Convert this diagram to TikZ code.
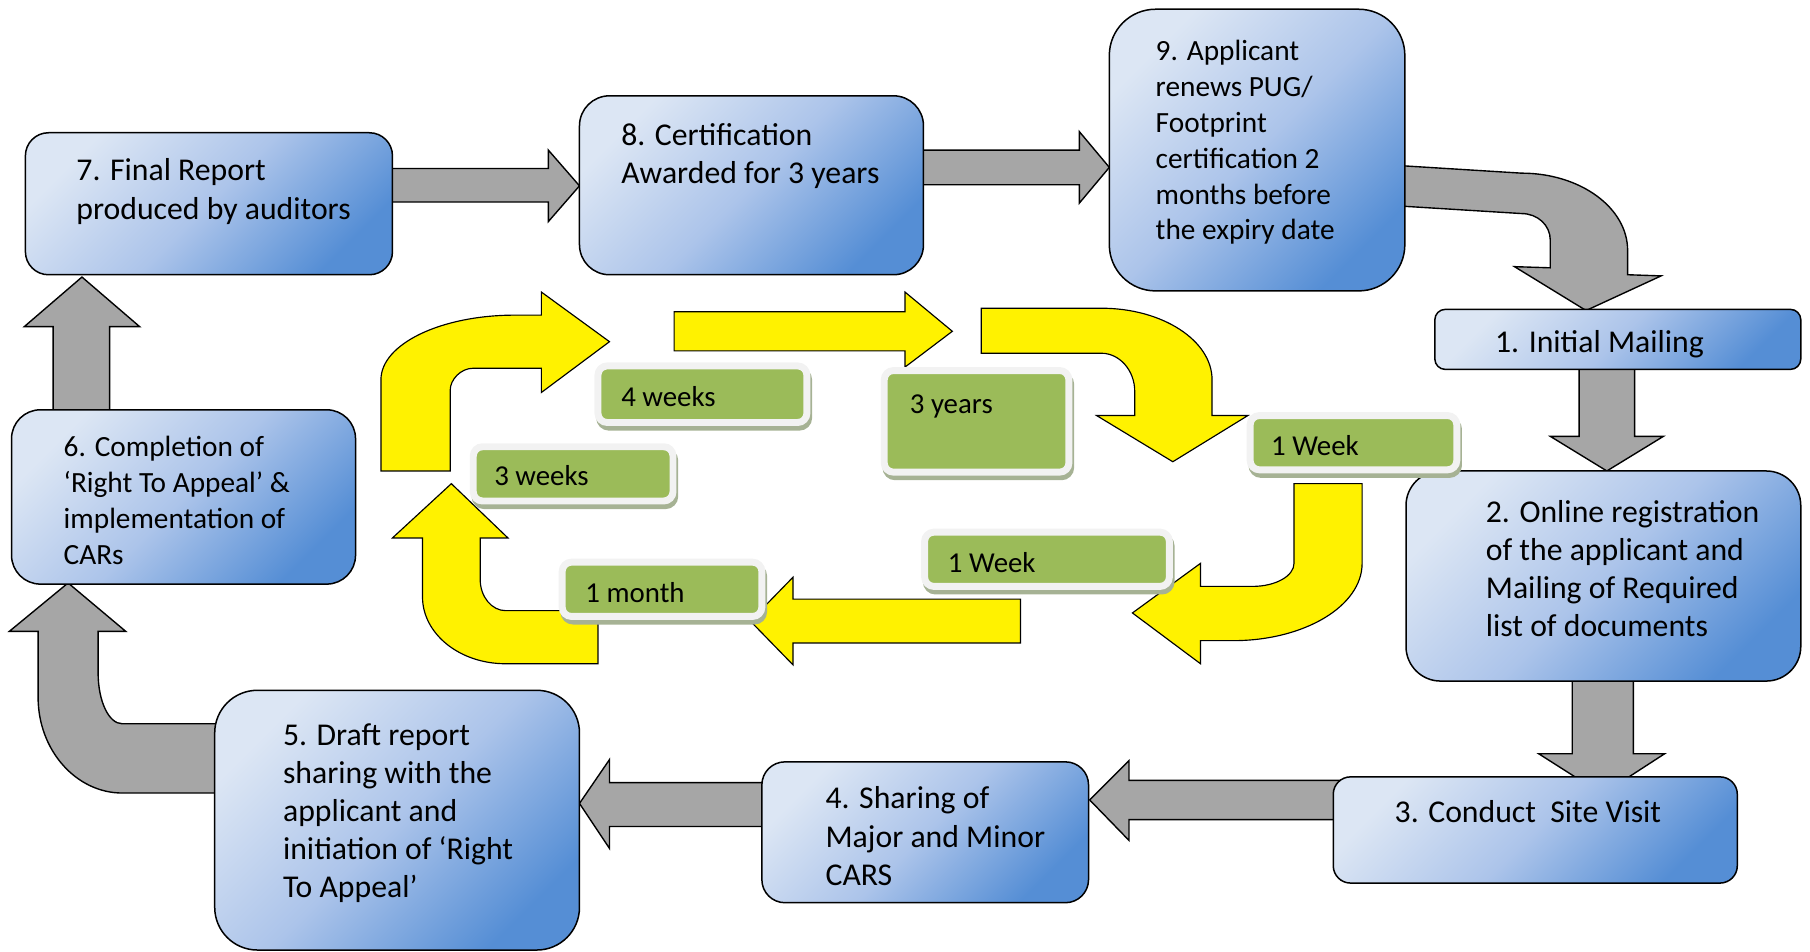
\documentclass[tikz,border=0pt]{standalone}
\usepackage{fontspec}
\setmainfont{Carlito}

\definecolor{boxlight}{RGB}{220,230,244}
\definecolor{boxmid}{RGB}{172,196,234}
\definecolor{boxdark}{RGB}{85,142,213}
\definecolor{arrgray}{RGB}{166,166,166}
\definecolor{lblgreen}{RGB}{155,187,89}
\definecolor{lblframe}{RGB}{242,242,242}
\definecolor{lblshadow}{RGB}{166,178,148}

\begin{document}
\begin{tikzpicture}[x=1pt,y=-1pt,
  stagebox/.style={draw=black,line width=1.3pt,inner sep=0pt,
    top color=boxlight,bottom color=boxdark,middle color=boxmid,shading angle=45},
  stagetext/.style={anchor=north west,align=left,inner sep=0pt,
    font=\fontsize{27.5}{33}\selectfont},
  smalltext/.style={stagetext,font=\fontsize{25.4}{31}\selectfont},
  grayarr/.style={draw=black,line width=1.2pt,fill=arrgray},
  yelarr/.style={draw=black,line width=1pt,fill=yellow},
  timebox/.style={draw=lblframe,line width=6pt,fill=lblgreen,rounded corners=8pt,
    inner sep=0pt,preaction={draw=lblshadow,fill=lblshadow,line width=6pt,
    transform canvas={xshift=1.5pt,yshift=-4pt}}},
  timetext/.style={anchor=west,inner sep=0pt,font=\fontsize{25}{30}\selectfont,
    text height=17pt,text depth=5pt}]

  \useasboundingbox (0,0) rectangle (1568,824);

  % gray arrows between the stages
  \draw[grayarr] (330,146) -- (475,146) -- (475,130) -- (502,161) -- (475,192) -- (475,175) -- (330,175) -- cycle;
  \draw[grayarr] (790,130) -- (935,130) -- (935,114) -- (961,145) -- (935,176) -- (935,160) -- (790,160) -- cycle;
  \draw[grayarr] (1205,143) -- (1318,150) .. controls (1369,150) and (1410,180) .. (1410,217)
    -- (1410,238) -- (1439,239) -- (1374,269) -- (1312,231) -- (1343,232) -- (1343,208)
    .. controls (1343,195) and (1332,185) .. (1318,185) -- (1205,178) -- cycle;
  \draw[grayarr] (1368,315) -- (1368,378) -- (1343,378) -- (1392,408) -- (1441,378) -- (1416,378) -- (1416,315) -- cycle;
  \draw[grayarr] (1362,585) -- (1362,653) -- (1333,653) -- (1388,688) -- (1442,653) -- (1415,653) -- (1415,585) -- cycle;
  \draw[grayarr] (1165,676) -- (978,676) -- (978,659) -- (944,693) -- (978,728) -- (978,710) -- (1165,710) -- cycle;
  \draw[grayarr] (670,678) -- (528,678) -- (528,658) -- (502,696) -- (528,735) -- (528,716) -- (670,716) -- cycle;
  \draw[grayarr] (196,627) -- (106,627) .. controls (94,627) and (85,607) .. (85,583) -- (85,547)
    -- (109,547) -- (59,505) -- (8,547) -- (33,547) -- (33,604)
    .. controls (33,650) and (66,687) .. (106,687) -- (196,687) -- cycle;
  \draw[grayarr] (46,360) -- (46,283) -- (21,283) -- (71,240) -- (121,283) -- (95,283) -- (95,360) -- cycle;

  % stages
  \node[stagebox,rounded corners=20pt,minimum width=318,minimum height=123] (s7) at (181,176.5) {};
  \node[stagetext] (t7) at (66,137.5) {7. Final Report\\produced by auditors};

  \node[stagebox,rounded corners=26pt,minimum width=298,minimum height=155] (s8) at (651,160.5) {};
  \node[stagetext] (t8) at (538,107) {8. Certification\\Awarded for 3 years};

  \node[stagebox,rounded corners=40pt,minimum width=256,minimum height=244] (s9) at (1089,130) {};
  \node[smalltext] (t9) at (1001,35) {9. Applicant\\renews PUG/\\Footprint\\certification 2\\months before\\the expiry date};

  \node[stagebox,rounded corners=9pt,minimum width=317,minimum height=52] (s1) at (1401.5,294) {};
  \node[stagetext] (t1) at (1295,286) {1. Initial Mailing};

  \node[stagebox,rounded corners=30pt,minimum width=342,minimum height=182] (s2) at (1389,499) {};
  \node[stagetext] (t2) at (1287,433.5) {2. Online registration\\of the applicant and\\Mailing of Required\\list of documents};

  \node[stagebox,rounded corners=15pt,minimum width=350,minimum height=92] (s3) at (1330,719) {};
  \node[stagetext] (t3) at (1208,693.5) {3. Conduct\ \ Site Visit};

  \node[stagebox,rounded corners=20pt,minimum width=283,minimum height=122] (s4) at (801.5,721) {};
  \node[stagetext] (t4) at (715,681.5) {4. Sharing of\\Major and Minor\\CARS};

  \node[stagebox,rounded corners=37pt,minimum width=316,minimum height=225] (s5) at (344,710.5) {};
  \node[stagetext] (t5) at (245,626.5) {5. Draft report\\sharing with the\\applicant and\\initiation of ‘Right\\To Appeal’};

  \node[stagebox,rounded corners=25pt,minimum width=298,minimum height=151] (s6) at (159,430.5) {};
  \node[smalltext] (t6) at (55,378) {6. Completion of\\‘Right To Appeal’ \&\\implementation of\\CARs};

  % yellow time loop
  \draw[yelarr] (330,408) -- (330,329) .. controls (330,298) and (382,273) .. (446,273) -- (469,273)
    -- (469,253) -- (528,296) -- (469,340) -- (469,319) -- (410,319)
    .. controls (399,319) and (390,329) .. (390,338) -- (390,408) -- cycle;
  \draw[yelarr] (584,270) -- (784,270) -- (784,253) -- (825,287) -- (784,318) -- (784,304) -- (584,304) -- cycle;
  \draw[yelarr] (850,267) -- (954,267) .. controls (1007,267) and (1050,295) .. (1050,329) -- (1050,360)
    -- (1081,360) -- (1016,400) -- (950,360) -- (983,360) -- (983,339)
    .. controls (983,321) and (970,306) .. (954,306) -- (850,306) -- cycle;
  \draw[yelarr] (1121,419) -- (1180,419) -- (1180,488) .. controls (1180,525) and (1130,555) .. (1068,555)
    -- (1040,555) -- (1040,575) -- (981,531) -- (1040,488) -- (1040,508) -- (1085,508)
    .. controls (1105,508) and (1121,499) .. (1121,488) -- cycle;
  \draw[yelarr] (884,519) -- (687,519) -- (687,500) -- (650,538) -- (687,576) -- (687,557) -- (884,557) -- cycle;
  \draw[yelarr] (518,575) -- (438,575) .. controls (398,575) and (366,549) .. (366,517) -- (366,466)
    -- (340,466) -- (391,419) -- (440,466) -- (416,466) -- (416,502)
    .. controls (416,517) and (426,529) .. (438,529) -- (518,529) -- cycle;

  % time labels
  \node[timebox,minimum width=181,minimum height=49] (w4) at (608.5,341.5) {};
  \node[timetext] (w4t) at (538,346) {4 weeks};
  \node[timebox,minimum width=160,minimum height=88] (y3) at (846,365) {};
  \node[timetext] (y3t) at (788,352) {3 years};
  \node[timebox,minimum width=179,minimum height=47] (wk1) at (1172.5,383.5) {};
  \node[timetext] (wk1t) at (1101,389) {1 Week};
  \node[timebox,minimum width=173,minimum height=47] (w3) at (496.5,410.5) {};
  \node[timetext] (w3t) at (428,415) {3 weeks};
  \node[timebox,minimum width=212,minimum height=47] (wk2) at (907,484.5) {};
  \node[timetext] (wk2t) at (821,490) {1 Week};
  \node[timebox,minimum width=173,minimum height=47] (m1) at (573.5,510.5) {};
  \node[timetext] (m1t) at (507,516) {1 month};

\end{tikzpicture}
\end{document}
